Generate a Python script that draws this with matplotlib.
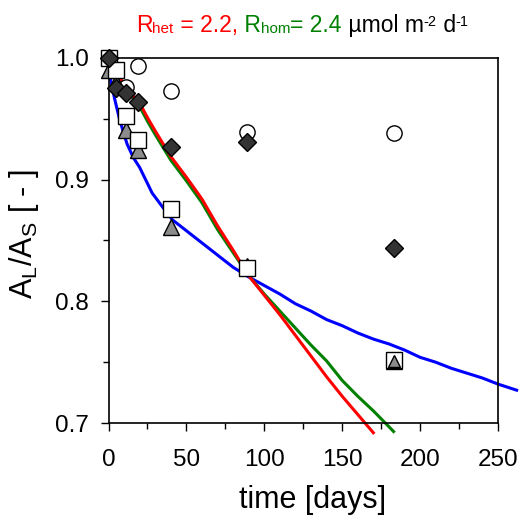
import numpy as np
import matplotlib
matplotlib.use("Agg")
import matplotlib.pyplot as plt
from matplotlib.ticker import MultipleLocator

plt.rcParams['font.family'] = ['Liberation Sans', 'DejaVu Sans']
plt.rcParams['mathtext.fontset'] = 'custom'
plt.rcParams['mathtext.rm'] = 'Liberation Sans'
plt.rcParams['mathtext.it'] = 'Liberation Sans:italic'

# model curves
red_t = [0, 5, 10, 15, 20, 25, 30, 40, 50, 60, 70, 80, 90, 100, 110, 120, 130, 140, 150, 160, 170]
red_y = [0.997, 0.989, 0.978, 0.970, 0.963, 0.951, 0.940, 0.919, 0.902, 0.884, 0.862, 0.842,
         0.821, 0.805, 0.789, 0.772, 0.755, 0.738, 0.722, 0.707, 0.692]
green_t = [0, 5, 10, 15, 20, 25, 30, 40, 50, 60, 70, 80, 90, 100, 110, 120, 130, 140, 150, 160, 170, 180, 183]
green_y = [0.997, 0.988, 0.977, 0.968, 0.960, 0.948, 0.937, 0.916, 0.899, 0.881, 0.859, 0.840,
           0.821, 0.806, 0.792, 0.778, 0.764, 0.751, 0.735, 0.722, 0.710, 0.697, 0.693]
blue_t = [0, 2, 4, 7, 10, 12, 16, 20, 28, 35, 41, 50, 58, 70, 80, 90, 100, 110, 120, 130, 140,
          150, 160, 170, 180, 190, 200, 210, 220, 230, 240, 250, 262]
blue_y = [0.990, 0.978, 0.966, 0.950, 0.937, 0.929, 0.918, 0.910, 0.889, 0.877, 0.867, 0.858,
          0.850, 0.838, 0.828, 0.820, 0.813, 0.806, 0.798, 0.792, 0.785, 0.780, 0.774, 0.769,
          0.765, 0.760, 0.754, 0.750, 0.745, 0.741, 0.737, 0.732, 0.727]

# measurements
days = [0, 5, 11, 19, 40, 89, 183]
circles = [1.000, 0.990, 0.976, 0.993, 0.973, 0.939, 0.938]
diamonds = [1.000, 0.975, 0.971, 0.964, 0.927, 0.931, 0.844]
squares = [1.000, 0.990, 0.952, 0.933, 0.876, 0.827, 0.752]
triangles = [0.990, 0.980, 0.941, 0.924, 0.861, 0.829, 0.751]

fig = plt.figure(figsize=(5.32, 5.2), dpi=100)
ax = fig.add_axes([0.204, 0.1865, 0.732, 0.702])

lw = 2.2
ax.plot(blue_t, blue_y, color='#0000ff', lw=lw, clip_on=False, zorder=2)
ax.plot(green_t, green_y, color='#008000', lw=lw, clip_on=False, zorder=2)
ax.plot(red_t, red_y, color='#ff0000', lw=lw, clip_on=False, zorder=2)

mk = dict(ls='none', mec='black', mew=1.0, clip_on=False)
ax.plot(days, circles, marker='o', ms=11, mfc='white', zorder=3, **mk)
ax.plot(days, triangles, marker='^', ms=11, mfc='#8c8c8c', zorder=4, **mk)
ax.plot(days, squares, marker='s', ms=11, mfc='white', zorder=5, **mk)
ax.plot(days[-1:], triangles[-1:], marker='^', ms=9, mfc='#8c8c8c', zorder=6, **mk)
ax.plot(days, diamonds, marker='D', ms=9.5, mfc='#333333', zorder=7, **mk)

ax.set_xlim(0, 250)
ax.set_ylim(0.7, 1.0)
ax.xaxis.set_major_locator(MultipleLocator(50))
ax.xaxis.set_minor_locator(MultipleLocator(25))
ax.yaxis.set_major_locator(MultipleLocator(0.1))
ax.yaxis.set_minor_locator(MultipleLocator(0.05))
ax.set_yticklabels(['%.1f' % v for v in ax.get_yticks()])
ax.tick_params(which='major', direction='out', length=6, width=1.0, labelsize=17.5)
ax.tick_params(which='minor', direction='out', length=4, width=1.0)
ax.tick_params(axis='x', pad=13)
ax.tick_params(axis='y', pad=8)
for s in ax.spines.values():
    s.set_linewidth(1.2)

fig.text(313 / 532, 0.023, 'time [days]', fontsize=22, ha='center', va='baseline')
fig.text(24 / 532, 1 - 234 / 520, r'A$_{\mathrm{L}}$/A$_{\mathrm{S}}$ [ - ]', fontsize=22,
         rotation=90, ha='center', va='center')

# multi-coloured title: (text, colour, size, rise in px)
parts = [('R', '#ff0000', 16.5, 0), ('het', '#ff0000', 11, -1), (' = 2.2,', '#ff0000', 16.5, 0),
         (' R', '#008000', 16.5, 0), ('hom', '#008000', 11, -1), ('= 2.4', '#008000', 16.5, 0),
         (' µmol m', 'black', 16.5, 0), ('-2', 'black', 10.5, 6), (' d', 'black', 16.5, 0),
         ('-1', 'black', 10.5, 6)]
renderer = fig.canvas.get_renderer()
x = 136 / 532
base = 1 - 32 / 520
for s, c, size, rise in parts:
    t = fig.text(x, base + rise / 520, s, color=c, fontsize=size, ha='left', va='baseline')
    x += t.get_window_extent(renderer).width / fig.bbox.width

fig.savefig('out.png', dpi=100)
